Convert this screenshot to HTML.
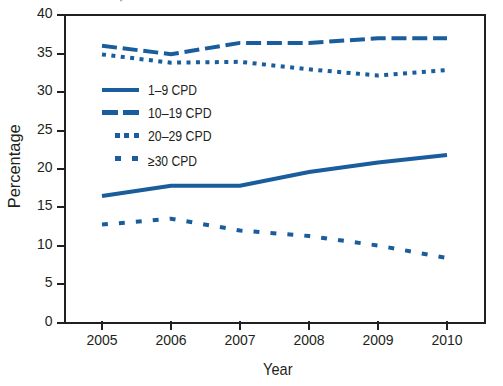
<!DOCTYPE html>
<html><head><meta charset="utf-8"><style>
html,body{margin:0;padding:0;background:#fff;width:503px;height:386px;overflow:hidden}
svg{display:block}
</style></head><body>
<svg width="503" height="386" viewBox="0 0 503 386">
<rect width="503" height="386" fill="#fff"/><rect x="120" y="0" width="2.2" height="1.3" fill="#b8aab0"/>
<g stroke="#231f20" stroke-width="2" fill="none" stroke-linecap="butt">
<path d="M57,15 H485 V322 M65,14 V323 M57,323 H486"/>
<path d="M57,54 H65"/>
<path d="M57,92 H65"/>
<path d="M57,131 H65"/>
<path d="M57,169 H65"/>
<path d="M57,207 H65"/>
<path d="M57,246 H65"/>
<path d="M57,284 H65"/>
<path d="M102,321 V330"/>
<path d="M171,321 V330"/>
<path d="M240,321 V330"/>
<path d="M309,321 V330"/>
<path d="M378,321 V330"/>
<path d="M447,321 V330"/>
</g>
<g font-family="&quot;Liberation Sans&quot;, sans-serif" font-size="14" fill="#231f20" text-anchor="end">
<text x="52.5" y="18">40</text>
<text x="52.5" y="57">35</text>
<text x="52.5" y="95">30</text>
<text x="52.5" y="134">25</text>
<text x="52.5" y="172">20</text>
<text x="52.5" y="210">15</text>
<text x="52.5" y="249">10</text>
<text x="52.5" y="287">5</text>
<text x="52.5" y="326">0</text>
</g>
<g font-family="&quot;Liberation Sans&quot;, sans-serif" font-size="14" fill="#231f20" text-anchor="middle">
<text x="102" y="345">2005</text>
<text x="171" y="345">2006</text>
<text x="240" y="345">2007</text>
<text x="309" y="345">2008</text>
<text x="378" y="345">2009</text>
<text x="447" y="345">2010</text>
</g>
<text x="263" y="374.8" font-family="&quot;Liberation Sans&quot;, sans-serif" font-size="17" fill="#231f20" textLength="29.5" lengthAdjust="spacingAndGlyphs">Year</text>
<text transform="translate(19.8,208.3) rotate(-90)" x="0" y="0" font-family="&quot;Liberation Sans&quot;, sans-serif" font-size="17" fill="#231f20" textLength="84" lengthAdjust="spacingAndGlyphs">Percentage</text>
<g fill="none" stroke="#1a5d9c" stroke-width="4.0" stroke-linejoin="miter" stroke-linecap="butt">
<polyline points="102,196 171,185.8 240,185.8 309,172 378,162.6 447,155"/>
<polyline points="102,45.8 171,54.2 240,42.9 309,42.9 378,38.3 447,38.3" stroke-dasharray="15 5.79"/>
<polyline points="102,54.4 171,62.7 240,61.8 309,69.3 378,75.5 447,70.1" stroke-dasharray="4 5.446"/>
<polyline points="102,224.6 171,218.7 240,230.5 309,236 378,245.5 447,258" stroke-dasharray="5.9 11.08"/>
<path d="M102,90 H139"/>
<path d="M102,112.5 H118 M123,112.5 H139" stroke-width="4.8"/>
<path d="M115,135.5 H120 M124,135.5 H129 M134,135.5 H139" stroke-width="5"/>
<path d="M115,158.5 H121 M132,158.5 H138" stroke-width="5"/>
</g>
<g font-family="&quot;Liberation Sans&quot;, sans-serif" font-size="14" fill="#231f20">
<text x="148" y="94.7" textLength="49" lengthAdjust="spacingAndGlyphs">1–9 CPD</text>
<text x="148" y="117.8" textLength="63.6" lengthAdjust="spacingAndGlyphs">10–19 CPD</text>
<text x="148" y="140.7" textLength="63.6" lengthAdjust="spacingAndGlyphs">20–29 CPD</text>
<text x="148" y="166.1" textLength="49" lengthAdjust="spacingAndGlyphs">≥30 CPD</text>
</g>
</svg>
</body></html>
